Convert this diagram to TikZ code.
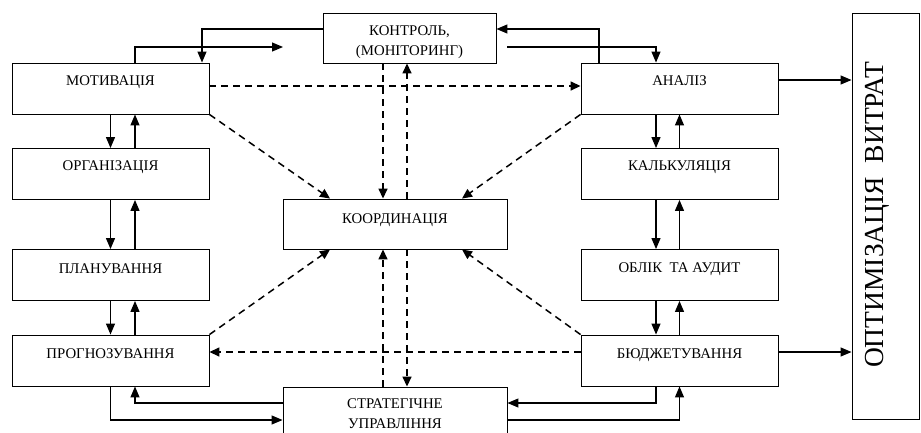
\documentclass[tikz,border=0pt]{standalone}
\usepackage{fontspec}
\setmainfont{Liberation Serif}
\usetikzlibrary{arrows.meta}
\begin{document}
\begin{tikzpicture}[x=1pt,y=-1pt,
  box/.style={draw,line width=0.9pt,inner sep=0pt,fill=white},
  sbox/.style={box,minimum width=197pt,minimum height=51pt},
  lbl/.style={anchor=base,font=\fontsize{14.8}{16}\selectfont,inner sep=0pt},
  arr/.style={line width=1.2pt,-{Triangle[length=11pt,width=9pt]}},
  darr/.style={line width=1.5pt,dash pattern=on 7pt off 5pt,-{Triangle[length=10pt,width=9pt]}}]
\useasboundingbox (0,0) rectangle (921,432);
\fill[white] (0,0) rectangle (921,432);

% left column
\node[sbox] (mot)  at (110.5,88.5) {};
\node[sbox] (org)  at (110.5,174) {};
\node[sbox] (plan) at (110.5,275) {};
\node[sbox] (prog) at (110.5,360.5) {};
% right column
\node[sbox] (an)  at (679.5,88.5) {};
\node[sbox] (kal) at (679.5,174) {};
\node[sbox] (obl) at (679.5,275) {};
\node[sbox] (bud) at (679.5,360.5) {};
% centre
\node[box,minimum width=173pt,minimum height=50pt] (kont)  at (409.5,38) {};
\node[box,minimum width=224pt,minimum height=50pt] (koord) at (395,224) {};
\node[box,minimum width=224pt,minimum height=53pt] (strat) at (395,413.5) {};
\node[box,minimum width=67pt,minimum height=406pt] (opt)   at (885.5,216) {};

% labels
\node[lbl] (tmot)  at (110.5,85) {МОТИВАЦІЯ};
\node[lbl] (torg)  at (110.5,170) {ОРГАНІЗАЦІЯ};
\node[lbl] (tplan) at (110.5,273) {ПЛАНУВАННЯ};
\node[lbl] (tprog) at (110.5,358) {ПРОГНОЗУВАННЯ};
\node[lbl] (tan)   at (679.5,85) {АНАЛІЗ};
\node[lbl] (tkal)  at (679.5,170) {КАЛЬКУЛЯЦІЯ};
\node[lbl] (tobl)  at (679.5,272) {ОБЛІК\ \ ТА АУДИТ};
\node[lbl] (tbud)  at (679.5,358) {БЮДЖЕТУВАННЯ};
\node[lbl] (tkont1) at (409.5,35) {КОНТРОЛЬ,};
\node[lbl] (tkont2) at (409.5,55) {(МОНІТОРИНГ)};
\node[lbl] (tkoord) at (395,223) {КООРДИНАЦІЯ};
\node[lbl] (tstrat1) at (395,408) {СТРАТЕГІЧНЕ};
\node[lbl] (tstrat2) at (395,428) {УПРАВЛІННЯ};
\node[rotate=90,font=\fontsize{27.5}{30}\selectfont,inner sep=0pt] (topt) at (877,215) {ОПТИМІЗАЦІЯ\ \ ВИТРАТ};

% top connections
\coordinate (c1) at (283,47);
\coordinate (c2) at (507,47);
\draw[arr] ([yshift=9pt]kont.west) -| ([xshift=91.5pt]mot.north);
\draw[arr] ([xshift=24.5pt]mot.north) |- (c1);
\draw[arr] ([xshift=-80.5pt]an.north) |- ([yshift=9pt]kont.east);
\draw[arr] (c2) -| ([xshift=-23.5pt]an.north);

% left column arrows
\draw[arr] (mot.south) -- (org.north);
\draw[arr] ([xshift=24.5pt]org.north) -- ([xshift=24.5pt]mot.south);
\draw[arr] (org.south) -- (plan.north);
\draw[arr] ([xshift=24.5pt]plan.north) -- ([xshift=24.5pt]org.south);
\draw[arr] (plan.south) -- (prog.north);
\draw[arr] ([xshift=24.5pt]prog.north) -- ([xshift=24.5pt]plan.south);
% right column arrows
\draw[arr] ([xshift=-23.5pt]an.south) -- ([xshift=-23.5pt]kal.north);
\draw[arr] (kal.north) -- (an.south);
\draw[arr] ([xshift=-23.5pt]kal.south) -- ([xshift=-23.5pt]obl.north);
\draw[arr] (obl.north) -- (kal.south);
\draw[arr] ([xshift=-23.5pt]obl.south) -- ([xshift=-23.5pt]bud.north);
\draw[arr] (bud.north) -- (obl.south);

% bottom connections
\draw[arr] (prog.south) |- ([yshift=-6.5pt]strat.west);
\draw[arr] ([yshift=10.5pt]strat.west) -| ([xshift=24.5pt]prog.south);
\draw[arr] ([xshift=-23.5pt]bud.south) |- ([yshift=10.5pt]strat.east);
\draw[arr] ([yshift=-6.5pt]strat.east) -| (bud.south);

% to optimisation
\coordinate (anOut) at ([yshift=8.5pt]an.east);
\coordinate (budOut) at ([yshift=8.5pt]bud.east);
\draw[arr] (anOut) -- (anOut -| opt.west);
\draw[arr] (budOut) -- (budOut -| opt.west);

% dashed
\coordinate (mE) at ([yshift=2.5pt]mot.east);
\coordinate (bW) at ([yshift=8.5pt]bud.west);
\draw[darr] (mE) -- (mE -| an.west);
\draw[darr] (bW) -- (bW -| prog.east);
\draw[darr] (mot.south east) -- ([xshift=-65pt]koord.north);
\draw[darr] (an.south west) -- ([xshift=67pt]koord.north);
\draw[darr] (prog.north east) -- ([xshift=-65pt]koord.south);
\draw[darr] (bud.north west) -- ([xshift=67pt]koord.south);
\coordinate (v1) at (383,0);
\coordinate (v2) at (407,0);
\draw[darr] (v1 |- kont.south) -- (v1 |- koord.north);
\draw[darr] (v1 |- strat.north) -- (v1 |- koord.south);
\draw[darr] (v2 |- koord.north) -- (v2 |- kont.south);
\draw[darr] (v2 |- koord.south) -- (v2 |- strat.north);
\end{tikzpicture}
\end{document}
